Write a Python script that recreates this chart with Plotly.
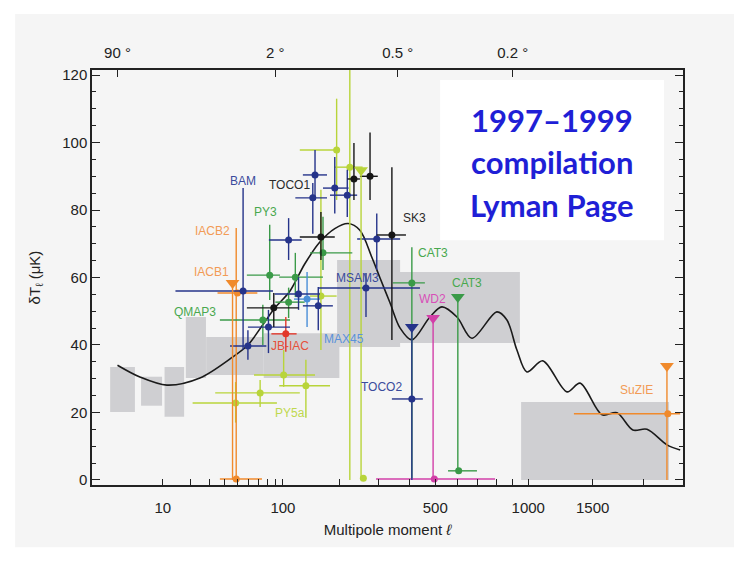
import numpy as np
import plotly.graph_objects as go

# ---------------- axis transform (the paper uses a compressed multipole scale) -------------
P = 0.31
def U(a):
    return np.asarray(a, dtype=float) ** P

# ---------------- theory curve ----------------
curve_l = [2, 4.9, 11.2, 24.6, 46, 59.5, 75, 89.5, 110, 133, 160, 190, 220, 249, 281, 304, 335, 368,
           409, 478, 528, 596, 669, 804, 864, 926, 991, 1101, 1284, 1391, 1585, 1727, 1887, 2038, 2265, 2425]
curve_v = [34, 30.5, 28.1, 30.2, 36.4, 40, 46, 51, 56, 64, 70.5, 74.5, 76, 74, 66, 60, 52.5, 45,
           41.5, 48.3, 51.3, 48.3, 42, 49.8, 47.4, 38.5, 32, 35.3, 26.1, 28.7, 19.3, 19.9, 14.8, 15.0, 10.4, 8.9]

# ---------------- grey band-power boxes ----------------
box_llo = [1.4, 5.1, 10.5, 18, 28, 76, 195, 341, 953]
box_lhi = [4.1, 9.8, 17.3, 27.9, 76, 200, 368, 945, 2290]
box_vlo = [20.1, 22.0, 18.7, 30.2, 31.1, 30.2, 39.4, 40.6, 0]
box_vhi = [33.5, 30.6, 33.5, 48.3, 42.4, 43.5, 65.2, 61.6, 23.1]

# ---------------- measurements ----------------
navy_l   = [55, 151, 147, 190, 218, 108, 123, 157, 295, 265, 81.5, 59.5, 409]
navy_v   = [56, 90.4, 83.6, 86.5, 84.4, 71.1, 55.1, 51.6, 71.4, 56.9, 45.3, 39.7, 24]
navy_llo = [14, 130, 118, 166, 180, 82, 89, 130, 242, 157, 59.5, 44, 341]
navy_lhi = [87, 174, 174, 221, 242, 128, 160, 186, 368, 439, 110, 79, 450]
navy_vlo = [38.5, 83, 73, 79, 77.9, 65.2, 50.4, 44.4, 62.2, 48.3, 37.6, 35.6, 24]
navy_vhi = [86.5, 97.8, 88, 95.7, 91.9, 77.6, 60.1, 57.2, 79, 61.3, 50.4, 44.4, 24]

black_l   = [162, 341, 234, 276, 88]
black_v   = [72, 72.6, 89.2, 90, 51]
black_llo = [125, 295, 218, 249, 58.5]
black_lhi = [190, 388, 249, 298, 123]
black_vlo = [65.2, 41.5, 83, 83, 45.3]
black_vhi = [79.4, 92.7, 99.9, 103, 55.4]

green_l   = [83, 75, 118, 166, 108, 409, 604]
green_v   = [60.7, 47.4, 60.1, 67.3, 52.7, 58.4, 2.7]
green_llo = [58.5, 36.6, 95, 142, 90, 344, 555]
green_lhi = [96, 110, 166, 230, 133, 458, 695]
green_vlo = [53.3, 40, 54.2, 62.2, 48, 0.6, 2.7]
green_vhi = [75.6, 51.9, 67.3, 78, 57, 69, 2.7]

yg_l   = [194, 224, 162, 48.5, 72, 101, 135, 258]
yg_v   = [97.8, 92.7, 54.5, 22.8, 25.8, 31.1, 27.9, 0.5]
yg_llo = [125, 190, 142, 21, 33.5, 65.5, 95, 258]
yg_lhi = [194, 256, 194, 92, 125, 151, 180, 258]
yg_vlo = [83, 0, 38.5, 17, 21.6, 27.6, 18.4, 0.5]
yg_vhi = [113, 125, 86, 29, 29.6, 38.5, 35.6, 0.5]

orange_l   = [50, 49, 2275]
orange_v   = [55.4, 0.3, 19.6]
orange_llo = [35, 36.6, 1340]
orange_lhi = [69, 74, 2425]
orange_vlo = [55.4, 0.3, 19.6]
orange_vhi = [55.4, 74.7, 19.6]

red_l, red_v, red_llo, red_lhi, red_vlo, red_vhi = [104], [43.3], [85], [120], [38], [48.3]
lblue_l, lblue_v, lblue_llo, lblue_lhi, lblue_vlo, lblue_vhi = [137], [53.6], [116], [160], [45.3], [61.6]
mag_l, mag_v, mag_llo, mag_lhi, mag_vlo, mag_vhi = [496], [0.3], [293], [794], [0.3], [0.3]

# upper limits (downward triangles with a line to the lower bound)
lim_l     = [409, 600, 252, 46, 2265, 491]
lim_v     = [45.3, 54.2, 91.8, 58.4, 33.8, 48]
lim_floor = [0, 2.4, 0, 0, 0, 0]
lim_group = ["navy", "green", "yg", "orange", "orange", "mag"]

# experiment labels
lab_text  = ["BAM", "TOCO1", "PY3", "IACB2", "IACB1", "QMAP3", "JB-IAC", "MAX45", "MSAM3",
             "SK3", "CAT3", "CAT3", "WD2", "TOCO2", "PY5a", "SuZIE"]
lab_l     = [55, 110, 77.5, 32, 31, 22, 110, 210, 242, 420, 490, 644, 490, 310, 110, 1928]
lab_v     = [88.6, 87.4, 79.4, 73.8, 61.6, 49.8, 39.7, 41.8, 59.9, 77.6, 67.3, 58.4, 53.6, 27.6, 19.9, 26.7]
lab_group = ["navyL", "dark", "greenL", "orangeL", "orangeL", "greenL", "redL", "lblueL", "navyL",
             "dark", "greenL", "greenL", "magL", "navyL", "ygL", "orangeL"]

x_tick_l = [10, 20, 30, 40, 50, 60, 70, 80, 90, 100, 200, 300, 400, 500, 600, 700, 800, 900,
            1000, 1500, 2000]
x_tick_txt = ["10", "", "", "", "", "", "", "", "", "100", "", "", "", "500", "", "", "", "",
              "1000", "1500", ""]
top_tick_l = [2, 90, 360, 900]
top_tick_txt = ["90 °", "2 °", "0.5 °", "0.2 °"]

COL = {
    "navy": "#25338a", "black": "#161616", "green": "#3a9a48", "yg": "#b8d43a",
    "orange": "#f08a2c", "red": "#e2382a", "lblue": "#4a8ed8", "mag": "#d23fa8",
    "navyL": "#3a4b9c", "dark": "#2a2a2a", "greenL": "#48a84e", "orangeL": "#f29b55",
    "redL": "#e6503a", "lblueL": "#5a92da", "magL": "#d84fb8", "ygL": "#c0d84e",
}

fig = go.Figure()

def add_points(l, v, llo, lhi, vlo, vhi, color):
    u = U(l)
    v = np.asarray(v, float)
    fig.add_trace(go.Scatter(
        x=u, y=v, mode="markers",
        marker=dict(color=color, size=7),
        error_x=dict(type="data", symmetric=False, array=U(lhi) - u, arrayminus=u - U(llo),
                     color=color, thickness=1.4, width=0),
        error_y=dict(type="data", symmetric=False, array=np.asarray(vhi, float) - v,
                     arrayminus=v - np.asarray(vlo, float), color=color, thickness=1.4, width=0),
        showlegend=False, hoverinfo="skip", cliponaxis=True))

# grey boxes
for lo, hi, a, b in zip(box_llo, box_lhi, box_vlo, box_vhi):
    fig.add_shape(type="rect", xref="x", yref="y", x0=float(U(lo)), x1=float(U(hi)), y0=a, y1=b,
                  fillcolor="#cfcfd2", line=dict(width=0), layer="below")

# theory curve
fig.add_trace(go.Scatter(x=U(curve_l), y=curve_v, mode="lines",
                         line=dict(color="#1a1a1a", width=1.6, shape="spline", smoothing=0.9),
                         showlegend=False, hoverinfo="skip"))

add_points(yg_l, yg_v, yg_llo, yg_lhi, yg_vlo, yg_vhi, COL["yg"])
add_points(orange_l, orange_v, orange_llo, orange_lhi, orange_vlo, orange_vhi, COL["orange"])
add_points(mag_l, mag_v, mag_llo, mag_lhi, mag_vlo, mag_vhi, COL["mag"])
add_points(green_l, green_v, green_llo, green_lhi, green_vlo, green_vhi, COL["green"])
add_points(lblue_l, lblue_v, lblue_llo, lblue_lhi, lblue_vlo, lblue_vhi, COL["lblue"])
add_points(red_l, red_v, red_llo, red_lhi, red_vlo, red_vhi, COL["red"])
add_points(navy_l, navy_v, navy_llo, navy_lhi, navy_vlo, navy_vhi, COL["navy"])
add_points(black_l, black_v, black_llo, black_lhi, black_vlo, black_vhi, COL["black"])

# upper limits
for l, v, f, g in zip(lim_l, lim_v, lim_floor, lim_group):
    fig.add_trace(go.Scatter(
        x=[float(U(l))], y=[v], mode="markers",
        marker=dict(color=COL[g], size=12, symbol="triangle-down"),
        error_y=dict(type="data", symmetric=False, array=[0], arrayminus=[v - f],
                     color=COL[g], thickness=1.4, width=0),
        showlegend=False, hoverinfo="skip"))

# dummy trace for top axis
fig.add_trace(go.Scatter(x=[float(U(10))], y=[-50], xaxis="x2", mode="markers",
                         marker=dict(opacity=0), showlegend=False, hoverinfo="skip"))

# labels
for t, l, v, g in zip(lab_text, lab_l, lab_v, lab_group):
    fig.add_annotation(x=float(U(l)), y=v, xref="x", yref="y", text=t, showarrow=False,
                       xanchor="center", yanchor="middle",
                       font=dict(family="Liberation Sans, Arial", size=12, color=COL[g]))

# scanned-page background & white text box
fig.add_shape(type="rect", xref="paper", yref="paper", x0=-0.13, x1=1.09, y0=-0.15, y1=1.135,
              fillcolor="#f5f5f5", line=dict(width=0), layer="below")
fig.add_shape(type="rect", xref="paper", yref="paper", x0=0.589, x1=0.968, y0=0.59, y1=0.976,
              fillcolor="white", line=dict(width=0), layer="above")
for txt, yy in zip(["1997–1999", "compilation", "Lyman Page"], [0.880, 0.778, 0.674]):
    fig.add_annotation(x=0.778, y=yy, xref="paper", yref="paper", text="<b>" + txt + "</b>",
                       showarrow=False, xanchor="center", yanchor="middle",
                       font=dict(family="Lato", size=31, color="#1f1fd6"))

L_MIN, L_MAX = 0.465, 2460
axis_font = dict(family="Liberation Sans, Arial", size=15, color="#222")
fig.update_layout(
    width=734, height=563,
    margin=dict(l=92, r=51, t=70, b=78),
    paper_bgcolor="white", plot_bgcolor="#f7f7f7",
    xaxis=dict(range=[float(U(L_MIN)), float(U(L_MAX))], tickvals=list(U(x_tick_l)), ticktext=x_tick_txt,
               ticks="inside", ticklen=6, tickcolor="#222", tickwidth=1.2, tickangle=0, automargin=False,
               showline=True, linecolor="#222", linewidth=1.5, mirror=False,
               showgrid=False, zeroline=False, tickfont=axis_font, ticklabelstandoff=8,
               title=dict(text="Multipole moment <i>ℓ</i>", font=axis_font, standoff=10)),
    xaxis2=dict(range=[float(U(L_MIN)), float(U(L_MAX))], overlaying="x", side="top",
                tickvals=list(U(top_tick_l)), ticktext=top_tick_txt, tickangle=0, automargin=False,
                ticks="inside", ticklen=7, tickcolor="#222", tickwidth=1.2,
                showline=True, linecolor="#222", linewidth=1.5,
                showgrid=False, zeroline=False, tickfont=axis_font, ticklabelstandoff=4),
    yaxis=dict(range=[-1.5, 121.5], tickvals=[0, 20, 40, 60, 80, 100, 120], automargin=False,
               ticks="inside", ticklen=8, tickcolor="#222", tickwidth=1.2,
               minor=dict(ticks="inside", ticklen=4, dtick=5, tickcolor="#222", tickwidth=1),
               showline=True, linecolor="#222", linewidth=1.5, mirror="ticks",
               showgrid=False, zeroline=False, tickfont=axis_font,
               title=dict(text="δT<sub>ℓ</sub> (μK)", font=dict(family="Liberation Sans, Arial", size=15, color="#222"),
                          standoff=18)),
)

fig.write_html("out.html")
